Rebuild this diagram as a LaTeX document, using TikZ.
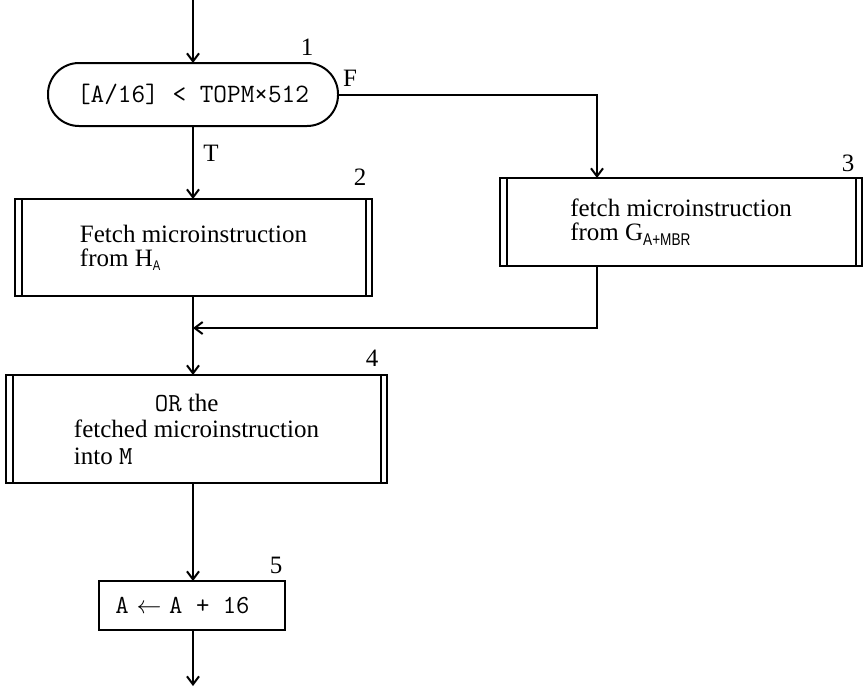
\documentclass[tikz,border=0pt]{standalone}
\usepackage{fontspec}
\usepackage{graphicx}
\setmainfont{Liberation Serif}
\newfontfamily\subsf{Liberation Sans}
\usetikzlibrary{arrows.meta}
\begin{document}
\begin{tikzpicture}[x=1pt,y=-1pt,
  every node/.style={inner sep=0pt, outer sep=0pt},
  ln/.style={line width=2pt},
  arr/.style={ln,-{Straight Barb[length=8pt,width=12pt,line width=2pt]}},
  box/.style={draw, line width=2pt, rectangle, align=left, font=\fontsize{25}{24}\selectfont},
  term/.style={draw, line width=2pt, rounded corners=31pt, font=\ttfamily\fontsize{26.5}{26.5}\selectfont},
  lbl/.style={font=\fontsize{25}{25}\selectfont}]
\useasboundingbox (0,0) rectangle (864,686);

% nodes
\node[term, minimum width=290pt, minimum height=63pt] (t) at (193,94.5) {[A/16] < TOPM×512};
\node[box, minimum width=357pt, minimum height=97pt] (b2) at (193.5,247.5)
  {Fetch microinstruction\\from H\raisebox{-4pt}{\subsf\fontsize{14}{14}\selectfont\scalebox{0.8}[1]{A}}};
\node[box, minimum width=362pt, minimum height=88pt] (b3) at (681,222)
  {fetch microinstruction\\from G\raisebox{-5pt}{\subsf\fontsize{17}{17}\selectfont\scalebox{0.8}[1]{A+MBR}}};
\node[box, minimum width=381pt, minimum height=108pt, font=\fontsize{25}{26.5}\selectfont] (b4) at (196.5,429)
  {\hspace*{81pt}{\fontsize{26}{26}\selectfont\texttt{OR}} the\\fetched microinstruction\\into {\fontsize{26}{26}\selectfont\texttt{M}}};
\node[box, minimum width=186pt, minimum height=49pt, font=\ttfamily\fontsize{26}{26}\selectfont] (b5) at (192,605.5)
  {A \makebox[13.6pt]{$\leftarrow$} A + 16\hspace*{19pt}};

% double side lines of the predefined-process boxes
\foreach \n in {b2,b3,b4}{
  \draw[ln] ([xshift=6.5pt]\n.north west) -- ([xshift=6.5pt]\n.south west);
  \draw[ln] ([xshift=-6.5pt]\n.north east) -- ([xshift=-6.5pt]\n.south east);
}

% labels
\node[lbl] (l1) at (307,47) {1};
\node[lbl] (l2) at (360,177) {2};
\node[lbl] (l3) at (848,163) {3};
\node[lbl] (l4) at (372,358) {4};
\node[lbl] (l5) at (276,565) {5};
\node[lbl] (lF) at (350,78) {F};
\node[lbl] (lT) at (211,153) {T};

% connectors
\coordinate (top) at (193,0);
\coordinate (bot) at (193,686);
\coordinate (m) at (193,328);
\draw[arr] (top) -- (t.north);
\draw[arr] (t.east) -| ([xshift=97pt]b3.north west);
\draw[arr] (t.south) -- (t.south |- b2.north);
\draw[arr] ([xshift=97pt]b3.south west) |- (m);
\draw[arr] (t.south |- b2.south) -- (t.south |- b4.north);
\draw[arr] (t.south |- b4.south) -- (t.south |- b5.north);
\draw[arr] (t.south |- b5.south) -- (bot);
\end{tikzpicture}
\end{document}
